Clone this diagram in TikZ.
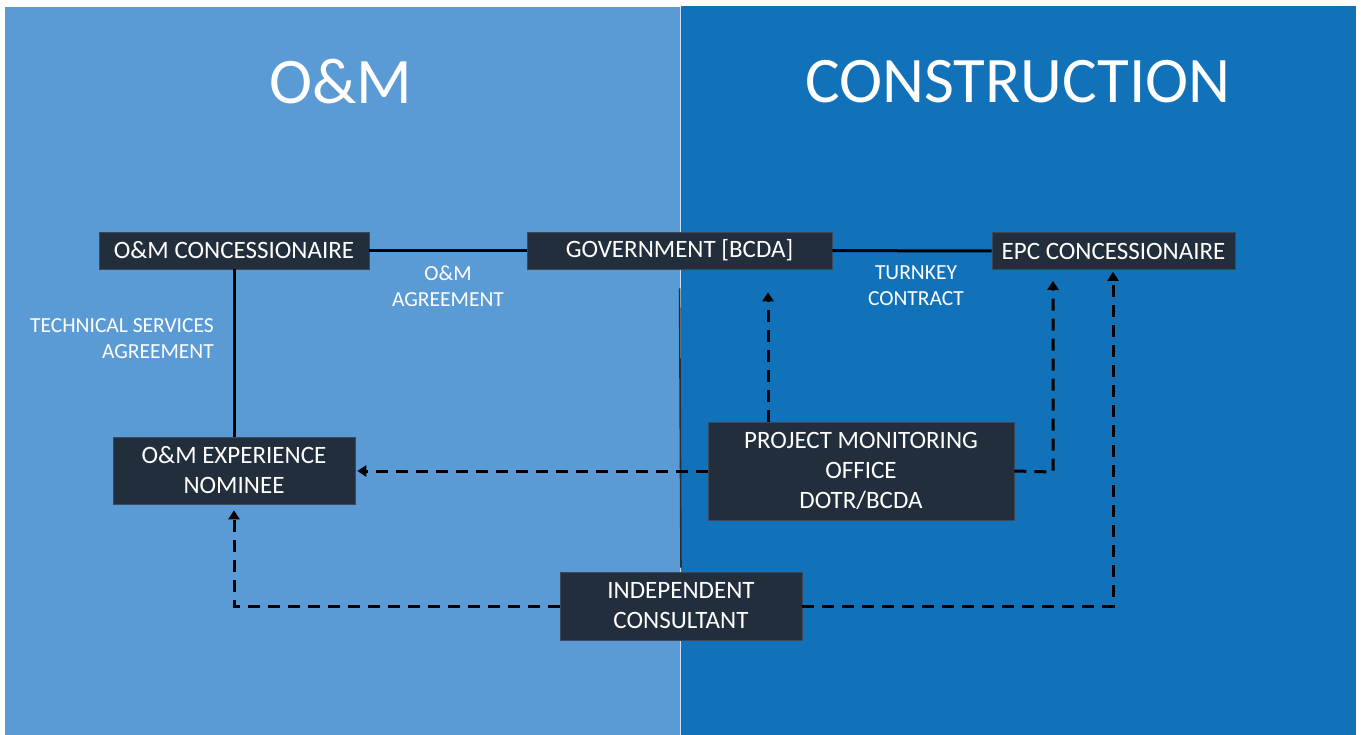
\documentclass[tikz,border=0pt]{standalone}
\usepackage{fontspec}
\setmainfont{Carlito}
\usetikzlibrary{arrows.meta}
\definecolor{leftblue}{HTML}{5B9BD5}
\definecolor{rightblue}{HTML}{1172BA}
\definecolor{boxfill}{HTML}{222E3C}
\definecolor{boxline}{HTML}{3A4A5C}
\definecolor{divider}{HTML}{2A2F36}
\tikzset{
  box/.style={draw=boxline, line width=0.6pt, fill=boxfill, text=white, inner sep=0pt,
    align=center, font=\fontsize{25}{30}\selectfont},
  lbl/.style={text=white, inner sep=0pt, font=\fontsize{21.5}{26}\selectfont},
  titletext/.style={text=white, inner sep=0pt, font=\fontsize{65}{72}\selectfont},
  solidlink/.style={line width=3pt, black},
  dashlink/.style={line width=3pt, black, dash pattern=on 12pt off 8pt,
    -{Triangle[width=11pt,length=9pt]}},
  thinlink/.style={line width=1.6pt, divider}
}
\begin{document}
\begin{tikzpicture}[x=1pt,y=-1pt]
\useasboundingbox (0,0) rectangle (1362,735);
\fill[white] (0,0) rectangle (1362,735);
% panels
\fill[leftblue] (5,7) rectangle (680,735);
\fill[rightblue] (681,6) rectangle (1356,735);
\draw[white!70!leftblue, line width=1pt] (680.5,7) -- (680.5,735);
% titles
\node[titletext] (t1) at (341,82) {O\&M};
\node[titletext] (t2) at (1018,82) {CONSTRUCTION};
% boxes
\node[box, minimum width=270pt, minimum height=37pt] (omc) at (234,250.5) {O\&M CONCESSIONAIRE};
\node[box, minimum width=305pt, minimum height=37pt] (gov) at (679.5,250.5) {GOVERNMENT [BCDA]};
\node[box, minimum width=243pt, minimum height=37pt] (epc) at (1113.5,251) {EPC CONCESSIONAIRE};
\node[box, minimum width=242pt, minimum height=67pt] (nom) at (234,470.5) {O\&M EXPERIENCE\\NOMINEE};
\node[box, minimum width=306pt, minimum height=98pt] (pmo) at (861,471) {PROJECT MONITORING\\OFFICE\\DOTR/BCDA};
\node[box, minimum width=242pt, minimum height=68pt] (ic) at (681,606) {INDEPENDENT\\CONSULTANT};
% labels
\node[lbl, align=center] (l1) at (448,286) {O\&M\\AGREEMENT};
\node[lbl, align=center] (l2) at (916,286) {TURNKEY\\CONTRACT};
\node[lbl, align=right, anchor=east] (l3) at (214,339) {TECHNICAL SERVICES\\AGREEMENT};
% solid links
\draw[solidlink] (omc) -- (gov);
\draw[solidlink] (gov) -- (epc);
\draw[solidlink] (omc) -- (nom);
\draw[thinlink, shorten <=19pt, shorten >=4pt] (gov.south) -- (ic.north);
% dashed links
\coordinate (pmotop) at (768,422);
\coordinate (pmocorner) at (1053,472);
\coordinate (iccornerL) at (234,606);
\coordinate (iccornerR) at (1113,606);
\draw[dashlink, shorten >=23pt] (pmotop) -- (pmotop |- gov.south);
\draw[dashlink, shorten >=11pt] (pmo.east) -- (pmocorner) -- (pmocorner |- epc.south);
\draw[dashlink, shorten >=2pt] (pmo.west) -- (pmo.west -| nom.east);
\draw[dashlink, shorten >=6pt] (ic.west) -- (iccornerL) -- (nom.south);
\draw[dashlink, shorten >=2pt] (ic.east) -- (iccornerR) -- (epc.south -| iccornerR);
\end{tikzpicture}
\end{document}
